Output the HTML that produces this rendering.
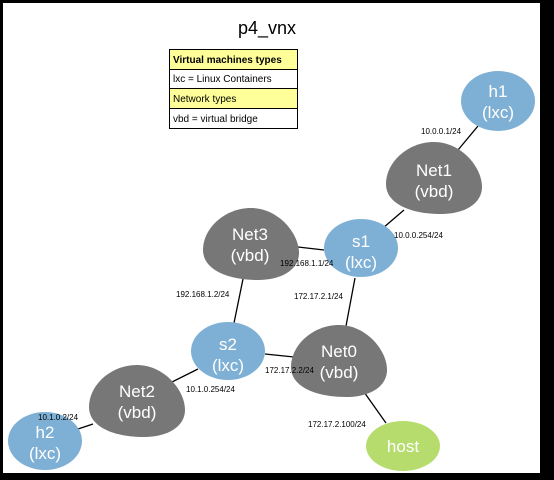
<!DOCTYPE html>
<html><head><meta charset="utf-8"><style>
html,body{margin:0;padding:0;background:#000;}
svg{display:block;}
</style></head><body>
<svg width="554" height="480" viewBox="0 0 554 480" xmlns="http://www.w3.org/2000/svg" font-family="Liberation Sans, sans-serif">
<rect x="0" y="0" width="554" height="480" fill="#000"/>
<rect x="3" y="3" width="537" height="470" fill="#fff"/>
<text x="267" y="34" font-size="18" text-anchor="middle" fill="#000">p4_vnx</text>
<g stroke="#000" stroke-width="1">
<rect x="169.5" y="49.5" width="128" height="20" fill="#ffff99"/>
<rect x="169.5" y="69.5" width="128" height="19" fill="#fff"/>
<rect x="169.5" y="88.5" width="128" height="20" fill="#ffff99"/>
<rect x="169.5" y="108.5" width="128" height="20" fill="#fff"/>
</g>
<g font-size="10" fill="#000">
<text x="173" y="63" font-weight="bold">Virtual machines types</text>
<text x="173" y="82">lxc = Linux Containers</text>
<text x="173" y="102">Network types</text>
<text x="173" y="122">vbd = virtual bridge</text>
</g>
<g stroke="#000" stroke-width="1.3">
<line x1="478" y1="126" x2="458" y2="150"/>
<line x1="404" y1="210" x2="383" y2="228"/>
<line x1="298" y1="247" x2="324" y2="250"/>
<line x1="243" y1="279" x2="234" y2="323"/>
<line x1="355" y1="278" x2="346" y2="326"/>
<line x1="265" y1="354" x2="294" y2="357"/>
<line x1="198" y1="369" x2="172" y2="382"/>
<line x1="93" y1="424" x2="78" y2="429"/>
<line x1="364" y1="392" x2="386" y2="423"/>
</g>
<defs><path id="blob" d="M48,0 C75,0 96,25 96,45 C96,62 78,72 55,72 C25,72 0,62 0,42 C0,20 22,0 48,0 Z" fill="#777"/></defs>
<use href="#blob" x="386" y="142"/>
<use href="#blob" x="203" y="208"/>
<use href="#blob" x="291" y="325"/>
<use href="#blob" x="89" y="365"/>
<g fill="#7eb0d5">
<ellipse cx="498" cy="101" rx="37" ry="30"/>
<ellipse cx="361" cy="248" rx="37" ry="29"/>
<ellipse cx="228" cy="351" rx="37" ry="29"/>
<ellipse cx="45" cy="441" rx="37" ry="29"/>
</g>
<ellipse cx="403" cy="446" rx="37" ry="25" fill="#b6dc6e"/>
<g fill="#fff" font-size="17" text-anchor="middle">
<text x="498" y="97">h1</text><text x="498" y="118">(lxc)</text>
<text x="434" y="176">Net1</text><text x="434" y="197">(vbd)</text>
<text x="250" y="240">Net3</text><text x="250" y="261">(vbd)</text>
<text x="361" y="247">s1</text><text x="361" y="268">(lxc)</text>
<text x="228" y="350">s2</text><text x="228" y="371">(lxc)</text>
<text x="339" y="357">Net0</text><text x="339" y="378">(vbd)</text>
<text x="137" y="397">Net2</text><text x="137" y="418">(vbd)</text>
<text x="45" y="438">h2</text><text x="45" y="459">(lxc)</text>
<text x="403" y="452">host</text>
</g>
<g font-size="8" fill="#000">
<text x="421" y="134">10.0.0.1/24</text>
<text x="394" y="238">10.0.0.254/24</text>
<text x="280" y="266">192.168.1.1/24</text>
<text x="176" y="297">192.168.1.2/24</text>
<text x="294" y="299">172.17.2.1/24</text>
<text x="265" y="373">172.17.2.2/24</text>
<text x="186" y="392">10.1.0.254/24</text>
<text x="38" y="420">10.1.0.2/24</text>
<text x="308" y="427">172.17.2.100/24</text>
</g>
</svg>
</body></html>
